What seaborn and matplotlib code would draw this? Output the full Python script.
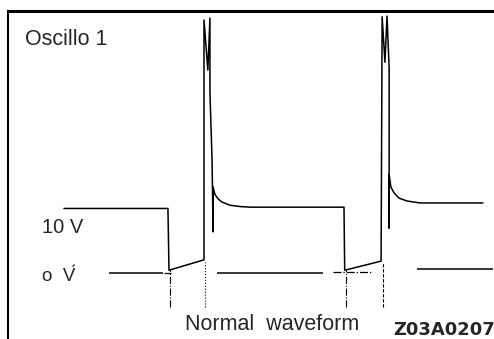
import matplotlib
matplotlib.use("Agg")
import matplotlib.pyplot as plt
import seaborn as sns
import pandas as pd

# waveform: time (ms) and voltage (V)
trace_t = [0.0, 2.97, 3.0, 4.0, 4.0, 4.11, 4.17, 4.17, 4.23, 4.26, 4.26, 4.31, 4.4, 4.51,
           4.74, 5.03, 5.31, 8.0, 8.02, 9.06, 9.09, 9.17, 9.23, 9.29, 9.29, 9.29, 9.34,
           9.43, 9.57, 9.8, 10.17, 11.97]
trace_v = [10.0, 10.0, 0.5, 2.1, 39.0, 31.3, 39.3, 27.9, 17.5, 6.4, 13.3, 12.2, 11.5, 11.0,
           10.5, 10.3, 10.2, 10.2, 0.5, 1.9, 39.5, 32.5, 39.6, 31.6, 7.0, 15.2, 13.3,
           12.4, 11.6, 11.15, 10.85, 10.85]

# 0 V reference line pieces (start, end, level)
zero_start = [1.29, 4.37, 10.09]
zero_end = [2.83, 7.40, 12.26]
zero_level = [0.0, 0.0, 0.7]
zero_dash_start = [2.86, 7.69]
zero_dash_end = [3.05, 8.80]
zero_dash_level = [0.0, 0.3]

# marker lines under the edges
mark_t = [3.03, 4.03, 8.06, 9.11]
mark_top = [0.5, 1.8, 0.5, 1.8]
mark_bottom = [-5.15, -5.15, -5.15, -5.15]
mark_style = ["-.", ":", "-.", (0, (3, 1.5))]

df = pd.DataFrame({"t": trace_t, "v": trace_v})

sns.set_style("white")
plt.rcParams["font.family"] = ["Liberation Sans", "DejaVu Sans"]

fig = plt.figure(figsize=(4.94, 3.39), dpi=100)
ax = fig.add_axes([8 / 494, 0, 1 - 8 / 494, 1 - 11 / 339])

sns.lineplot(data=df, x="t", y="v", sort=False, estimator=None, color="black",
             linewidth=1.1, ax=ax)
ax.hlines(zero_level, zero_start, zero_end, color="black", linewidth=1.1)
ax.hlines(zero_dash_level, zero_dash_start, zero_dash_end, color="black",
          linewidth=0.9, linestyles="-.")
for t, top, bot, ls in zip(mark_t, mark_top, mark_bottom, mark_style):
    ax.vlines(t, bot, top, color="black", linewidth=0.8, linestyles=ls)

ax.set_xlim(-1.6, 12.286)
ax.set_ylim(-10.08, 40.38)
ax.set_xticks([])
ax.set_yticks([])
ax.set_xlabel("")
ax.set_ylabel("")
for side in ["right", "bottom"]:
    ax.spines[side].set_visible(False)
ax.spines["left"].set_linewidth(1.5)
ax.spines["left"].set_color("black")
ax.spines["top"].set_linewidth(2.2)
ax.spines["top"].set_color("black")

W, H = 494, 339
fig.text(25 / W, 1 - 45 / H, "Oscillo 1", fontsize=15.5, va="baseline")
fig.text(42 / W, 1 - 233 / H, "10 V", fontsize=14.5, va="baseline")
fig.text(42 / W, 1 - 281 / H, "o  V\u0301", fontsize=13.5, va="baseline")
fig.text(185 / W, 1 - 330 / H, "Normal  waveform", fontsize=15.5, va="baseline")
fig.text(393 / W, 1 - 335 / H, "Z03A0207", fontsize=13, fontweight="bold",
         family="DejaVu Sans", va="baseline")

fig.savefig("out.png", dpi=100)
